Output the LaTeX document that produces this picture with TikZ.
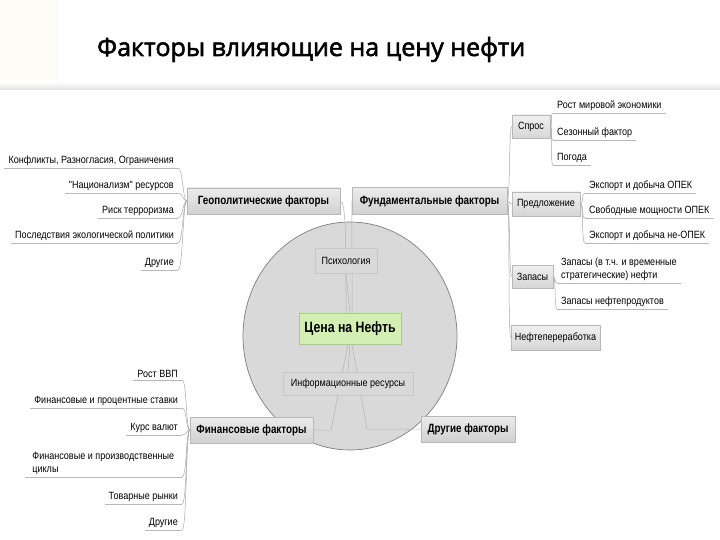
\documentclass[tikz,border=0pt]{standalone}
\usepackage{fontspec}
\setmainfont{Liberation Sans}
\newfontfamily\leaffont[FakeStretch=0.86]{Liberation Sans}
\newfontfamily\boxfont[FakeStretch=0.82]{Liberation Sans Bold}
\newfontfamily\titlefont[FakeBold=2.2]{Open Sans}
\usetikzlibrary{shadows}
\pgfdeclarelayer{back}
\pgfdeclarelayer{edges}
\pgfsetlayers{back,edges,main}
\definecolor{circfill}{HTML}{D9D9D9}
\definecolor{circdraw}{HTML}{7F7F7F}
\definecolor{greenfill}{HTML}{D4EFB4}
\definecolor{greendraw}{HTML}{A3D27E}
\definecolor{boxdraw}{HTML}{B8B8B8}
\definecolor{linegray}{HTML}{A8A8A8}
\definecolor{cream}{HTML}{F9F5E8}
\definecolor{creamlight}{HTML}{FCFBF6}
\tikzset{
  mainbox/.style={draw=boxdraw, top color=white!92!black, bottom color=white!82!black,
    inner sep=0pt, font=\boxfont\fontsize{12}{14}\selectfont,
    drop shadow={opacity=0.25, shadow xshift=1pt, shadow yshift=-1pt}},
  subbox/.style={draw=boxdraw, top color=white!94!black, bottom color=white!84!black,
    inner sep=0pt, font=\leaffont\fontsize{10.5}{12}\selectfont,
    drop shadow={opacity=0.2, shadow xshift=1pt, shadow yshift=-1pt}},
  innerbox/.style={draw=white!78!black, fill=circfill, inner sep=0pt,
    font=\leaffont\fontsize{10.5}{12}\selectfont},
  leaf/.style={inner xsep=4pt, inner ysep=2.5pt, font=\leaffont\fontsize{10.5}{12.5}\selectfont, text=black},
  lline/.style={draw=linegray, line width=0.5pt},
  uline/.style={draw=white!72!black, line width=0.6pt},
  cline/.style={draw=white!70!black, line width=0.5pt}
}
\begin{document}
\begin{tikzpicture}[x=1pt,y=-1pt]
\useasboundingbox (0,0) rectangle (720,540);
% decoration top-left
\fill[creamlight] (0,0) rectangle (57,84);
\fill[cream] (0,0) -- (47,0) arc[start angle=0, end angle=-90, x radius=47, y radius=62] -- cycle;
\draw[white!80!black, line width=0.4pt] (47,0) arc[start angle=0, end angle=-90, x radius=47, y radius=62];
\shade[top color=white, bottom color=white!88!black] (0,82) rectangle (720,90);
% title
\node[anchor=base west, inner sep=0pt, font=\titlefont\fontsize{25}{28}\selectfont] (title) at (97,56) {Факторы влияющие на цену нефти};
% central ellipse
\begin{pgfonlayer}{back}
\draw[fill=circfill, draw=circdraw, line width=0.7pt] (350,336) ellipse[x radius=107, y radius=114];
\end{pgfonlayer}
% central nodes
\node[draw=greendraw, fill=greenfill, line width=0.8pt, inner sep=0pt, minimum width=102pt, minimum height=31pt,
  font=\boxfont\fontsize{15}{17}\selectfont] (ctr) at (350,328.5) {Цена на Нефть};
\node[innerbox, minimum width=62pt, minimum height=25pt] (psy) at (346,260.5) {Психология};
\node[innerbox, minimum width=130pt, minimum height=23pt] (inf) at (348,383.5) {Информационные ресурсы};
% main boxes
\node[mainbox, minimum width=153pt, minimum height=26pt] (geo) at (263.5,201) {Геополитические факторы};
\node[mainbox, minimum width=155pt, minimum height=27pt] (fund) at (429.5,201) {Фундаментальные факторы};
\node[mainbox, minimum width=123pt, minimum height=26pt] (fin) at (251.5,430) {Финансовые факторы};
\node[mainbox, minimum width=94pt, minimum height=26pt] (oth) at (468,429) {Другие факторы};
% sub boxes of fundamental
\node[subbox, minimum width=38pt, minimum height=23pt] (dem) at (531,126.5) {Спрос};
\node[subbox, minimum width=68pt, minimum height=24pt] (sup) at (546,204) {Предложение};
\node[subbox, minimum width=41pt, minimum height=23pt] (sto) at (532.5,276.5) {Запасы};
\node[subbox, minimum width=89pt, minimum height=25pt] (ref) at (555.5,337.5) {Нефтепереработка};
% geopolitical leaves
\node[leaf, anchor=south east] (g1) at (178,168) {Конфликты, Разногласия, Ограничения};
\node[leaf, anchor=south east] (g2) at (178,193) {"Национализм" ресурсов};
\node[leaf, anchor=south east] (g3) at (178,218) {Риск терроризма};
\node[leaf, anchor=south east] (g4) at (178,243) {Последствия экологической политики};
\node[leaf, anchor=south east] (g5) at (178,270) {Другие};
% financial leaves
\node[leaf, anchor=south east] (f1) at (182,380) {Рост ВВП};
\node[leaf, anchor=south east] (f2) at (182,408) {Финансовые и процентные ставки};
\node[leaf, anchor=south east] (f3) at (182,435) {Курс валют};
\node[leaf, anchor=south east, align=left, minimum width=157pt] (f4) at (182,477) {Финансовые и производственные\\циклы};
\node[leaf, anchor=south east] (f5) at (182,504) {Товарные рынки};
\node[leaf, anchor=south east] (f6) at (182,530) {Другие};
% demand leaves
\node[leaf, anchor=south west] (d1) at (553,113) {Рост мировой экономики};
\node[leaf, anchor=south west] (d2) at (553,140) {Сезонный фактор};
\node[leaf, anchor=south west] (d3) at (553,165) {Погода};
% supply leaves
\node[leaf, anchor=south west] (s1) at (585,193) {Экспорт и добыча ОПЕК};
\node[leaf, anchor=south west] (s2) at (585,218) {Свободные мощности ОПЕК};
\node[leaf, anchor=south west] (s3) at (585,243) {Экспорт и добыча не-ОПЕК};
% storage leaves
\node[leaf, anchor=south west, align=left] (z1) at (557,283) {Запасы (в т.ч. и временные\\стратегические) нефти};
\node[leaf, anchor=south west] (z2) at (557,309) {Запасы нефтепродуктов};
% connectors
\coordinate (bl) at (331,430);
\coordinate (br) at (367,429);
\begin{pgfonlayer}{edges}
\draw[cline] ([xshift=-4pt]ctr.north) .. controls (346,240) and (346,201) .. (geo.east);
\draw[cline] ([xshift=2pt]ctr.north) .. controls (352,240) and (352,201) .. (fund.west);
\draw[cline] ([xshift=-2pt]ctr.south) -- (bl) -- (fin.east);
\draw[cline] ([xshift=2pt]ctr.south) -- (br) -- (oth.west);
\draw[cline] (ctr.north) -- (psy.south);
\draw[cline] (ctr.south) -- (inf.north);
\end{pgfonlayer}
\foreach \n in {g1,g2,g3,g4,g5} {
  \draw[uline] (\n.south west) -- (\n.south east);
  \draw[lline] (\n.south east) .. controls +(5,0) and +(-4,0) .. (geo.west);
}
\foreach \n in {f1,f2,f3,f4,f5,f6} {
  \draw[uline] (\n.south west) -- (\n.south east);
  \draw[lline] (\n.south east) .. controls +(5,0) and +(-4,0) .. (fin.west);
}
\foreach \n in {d1,d2,d3} {
  \draw[uline] (\n.south west) -- (\n.south east);
  \draw[lline] (dem.east) .. controls +(3,0) and +(-3,0) .. (\n.south west);
}
\foreach \n in {s1,s2,s3} {
  \draw[uline] (\n.south west) -- (\n.south east);
  \draw[lline] (sup.east) .. controls +(4,0) and +(-4,0) .. (\n.south west);
}
\foreach \n in {z1,z2} {
  \draw[uline] (\n.south west) -- (\n.south east);
  \draw[lline] (sto.east) .. controls +(3,0) and +(-3,0) .. (\n.south west);
}
\foreach \n in {dem,sup,sto,ref} {
  \draw[lline] (fund.east) .. controls +(3,0) and +(-3,0) .. (\n.west);
}
\end{tikzpicture}
\end{document}
